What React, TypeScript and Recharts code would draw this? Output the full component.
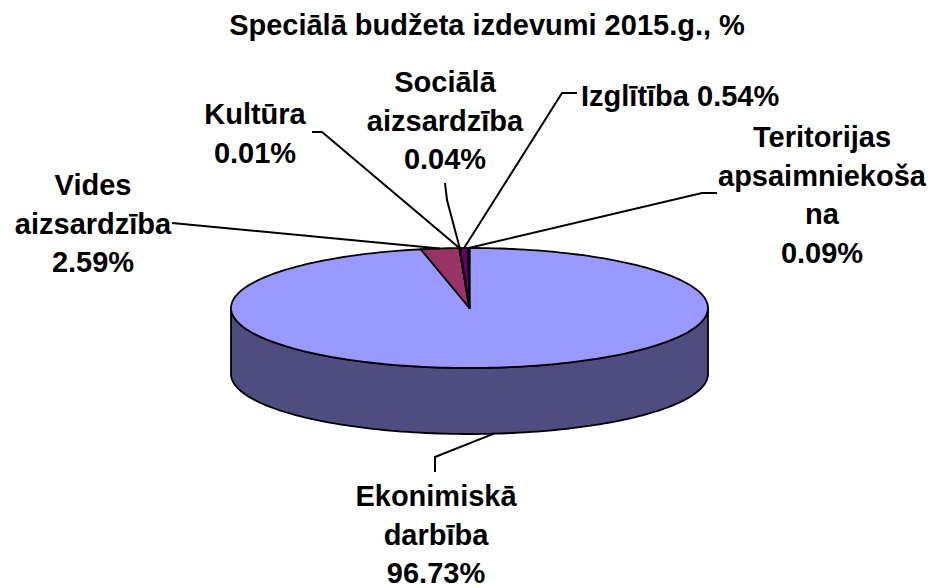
import { Pie, PieChart } from "recharts";

const categories = [
  "Ekonimiskā darbība",
  "Vides aizsardzība",
  "Kultūra",
  "Sociālā aizsardzība",
  "Izglītība",
  "Teritorijas apsaimniekošana",
];
const shares = [96.73, 2.59, 0.01, 0.04, 0.54, 0.09];
const colors = ["#9999FF", "#993366", "#FFFFCC", "#CCFFFF", "#660066", "#FF8080"];
// how the labels wrap in the original
const labelLines = [
  ["Ekonimiskā", "darbība"],
  ["Vides", "aizsardzība"],
  ["Kultūra"],
  ["Sociālā", "aizsardzība"],
  ["Izglītība"],
  ["Teritorijas", "apsaimniekoša", "na"],
];

const data = categories.map((name, i) => ({ name, value: shares[i], fill: colors[i] }));

const W = 938;
const H = 588;
const CX = 464.5;
const CY = 303;
const R = 238.5;
const TILT = 60 / 238.5;
const DEPTH = 66;
const FONT = "'Liberation Sans', Arial, sans-serif";
const FONT_SIZE = 29;
const LINE_H = 38.5;

// label placement: text anchor x, first baseline, and leader knees
const layout = [
  { x: 436, y: 506, anchor: "middle", knees: [[435, 457], [435, 472]] },
  { x: 93, y: 195, anchor: "middle", knees: [[172, 223]] },
  { x: 255, y: 124, anchor: "middle", knees: [[322, 132], [312, 132]] },
  { x: 445, y: 92, anchor: "middle", knees: [[447, 200], [445, 183]] },
  { x: 581, y: 106, anchor: "start", inline: true, knees: [[562, 93], [577, 93]] },
  { x: 822, y: 147, anchor: "middle", knees: [[702, 193], [717, 193]] },
];

function darken(hex: string, k = 0.5) {
  const n = parseInt(hex.slice(1), 16);
  const r = Math.round(((n >> 16) & 255) * k);
  const g = Math.round(((n >> 8) & 255) * k);
  const b = Math.round((n & 255) * k);
  return `rgb(${r},${g},${b})`;
}

function pt(cx: number, cy: number, rx: number, a: number, dy = 0) {
  const t = (a * Math.PI) / 180;
  return [cx + rx * Math.cos(t), cy - rx * TILT * Math.sin(t) + dy];
}

function arc(cx: number, cy: number, rx: number, a0: number, a1: number, dy = 0) {
  const n = Math.max(2, Math.ceil(Math.abs(a1 - a0) / 1.5));
  const out: number[][] = [];
  for (let i = 0; i <= n; i++) out.push(pt(cx, cy, rx, a0 + ((a1 - a0) * i) / n, dy));
  return out;
}

const toPath = (pts: number[][]) => pts.map((p, i) => `${i ? "L" : "M"}${p[0].toFixed(2)},${p[1].toFixed(2)}`).join("");

function Slice3D(props: any) {
  const { cx, cy, outerRadius, startAngle, endAngle, fill } = props;
  const lo = Math.min(startAngle, endAngle);
  const hi = Math.max(startAngle, endAngle);
  const walls: string[] = [];
  for (let k = -2; k <= 2; k++) {
    const a = Math.max(lo, -180 + 360 * k);
    const b = Math.min(hi, 360 * k);
    if (a < b) {
      const top = arc(cx, cy, outerRadius, b, a);
      const bottom = arc(cx, cy, outerRadius, a, b, DEPTH);
      walls.push(toPath([...top, ...bottom]) + "Z");
    }
  }
  const face = `M${cx},${cy}` + toPath(arc(cx, cy, outerRadius, startAngle, endAngle)).replace(/^M/, "L") + "Z";
  return (
    <g>
      {walls.map((d, i) => (
        <path key={i} d={d} fill={darken(fill)} stroke="#000" strokeWidth={1.8} strokeLinejoin="round" />
      ))}
      <path d={face} fill={fill} stroke="#000" strokeWidth={1.8} strokeLinejoin="round" />
    </g>
  );
}

function renderLabel(props: any) {
  const { cx, cy, outerRadius, midAngle, index, value } = props;
  const L = layout[index];
  const front = Math.sin((midAngle * Math.PI) / 180) < 0;
  const a = pt(cx, cy, outerRadius, midAngle, front ? DEPTH : 0);
  const pct = `${Number(value).toFixed(2)}%`;
  const lines = L.inline
    ? [`${labelLines[index].join(" ")} ${pct}`]
    : [...labelLines[index], pct];
  return (
    <g key={`lbl-${index}`}>
      <polyline
        points={[a, ...L.knees].map((p) => p.join(",")).join(" ")}
        fill="none"
        stroke="#000"
        strokeWidth={2}
      />
      <text
        x={L.x}
        y={L.y}
        textAnchor={L.anchor as any}
        fontFamily={FONT}
        fontWeight="bold"
        fontSize={FONT_SIZE}
        fill="#000"
      >
        {lines.map((t, i) => (
          <tspan key={i} x={L.x} y={L.y + i * LINE_H}>
            {t}
          </tspan>
        ))}
      </text>
    </g>
  );
}

export default function App() {
  return (
    <div style={{ position: "relative", width: W, height: H, background: "#fff" }}>
      <style>{"body{margin:0}"}</style>
      <PieChart width={W} height={H}>
        <Pie
          data={data}
          dataKey="value"
          nameKey="name"
          cx={CX}
          cy={CY}
          outerRadius={R}
          startAngle={90}
          endAngle={-270}
          stroke="#000"
          isAnimationActive={false}
          shape={Slice3D}
          activeShape={Slice3D}
          inactiveShape={Slice3D}
          label={renderLabel}
          labelLine={false}
        />
      </PieChart>
      <svg width={W} height={60} style={{ position: "absolute", left: 0, top: 0, pointerEvents: "none" }}>
        <text x={487} y={35} textAnchor="middle" fontFamily={FONT} fontWeight="bold" fontSize={FONT_SIZE} fill="#000">
          Speciālā budžeta izdevumi 2015.g., %
        </text>
      </svg>
    </div>
  );
}
